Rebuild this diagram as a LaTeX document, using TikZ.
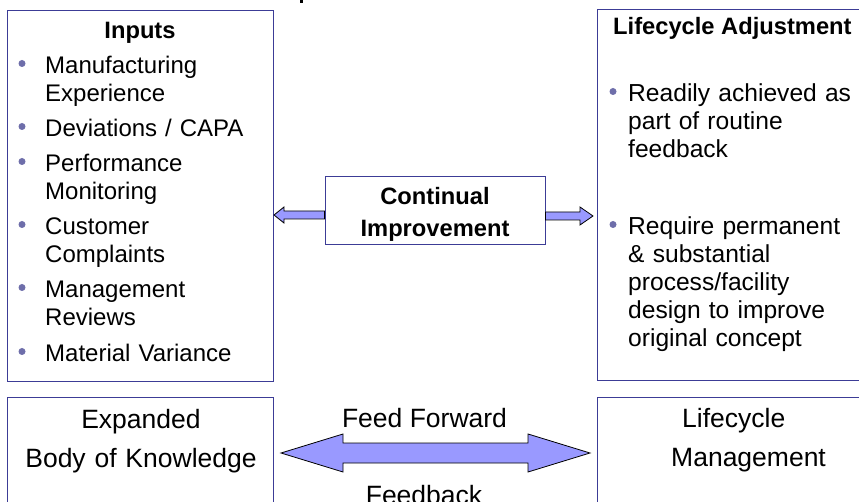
\documentclass[tikz,border=0pt]{standalone}
\usepackage{fontspec}
\setmainfont{Liberation Sans}
\usetikzlibrary{calc}
\definecolor{boxc}{RGB}{60,60,150}
\definecolor{bulc}{RGB}{110,110,170}
\definecolor{arrc}{RGB}{153,153,255}
\newcommand\fitem{\fontsize{24}{28}\selectfont}
\newcommand\fitemR{\fontsize{24.6}{28}\selectfont}
\newcommand\ftitle{\fontsize{23.7}{28}\selectfont\bfseries}
\newcommand\fbig{\fontsize{26.5}{39}\selectfont}
\begin{document}
\begin{tikzpicture}[x=1pt,y=-1pt,
  box/.style={draw=boxc,line width=1pt,fill=white,inner sep=0pt,anchor=north west},
  itemL/.style={anchor=base west,inner sep=0pt,text width=225pt,align=left,font=\fitem},
  itemR/.style={anchor=base west,inner sep=0pt,text width=228pt,align=left,font=\fitemR},
  bul/.style={fill=bulc},
  arrowst/.style={draw=black,line width=0.8pt,fill=arrc,line join=miter}]
\useasboundingbox (0,0) rectangle (859,502);
\clip (0,0) rectangle (859,502);
\fill (300,0) rectangle (302.5,3);
% boxes
\node[box,minimum width=266pt,minimum height=371pt] (inputs) at (7,10) {};
\node[box,minimum width=280pt,minimum height=371pt] (ladj) at (597,9) {};
\node[box,minimum width=266pt,minimum height=130pt] (ebk) at (7,397) {};
\node[box,minimum width=280pt,minimum height=130pt] (lcm) at (597,397) {};
\node[box,minimum width=220pt,minimum height=68pt,anchor=center] (ci) at (435,211) {};
% titles
\node[anchor=base,inner sep=0pt,font=\ftitle] (tin) at (140,39) {Inputs};
\node[anchor=base west,inner sep=0pt,font=\ftitle] (tla) at (613,35) {Lifecycle Adjustment};
\node[anchor=base,inner sep=0pt,font=\ftitle,text width=220pt,align=center] (tci) at (435,205) {Continual\\[4pt]Improvement};
% input items
\foreach \y/\t [count=\i] in {74/{Manufacturing\\Experience},137/{Deviations / CAPA},172/{Performance\\Monitoring},235/{Customer\\Complaints},298/{Management\\Reviews},362/{Material Variance}}{
  \fill[bul] (22,\y-10.5) circle (3.5);
  \node[itemL] (in\i) at (45,\y) {\t};
}
% right items
\foreach \y/\t [count=\i] in {102/{Readily achieved as\\part of routine\\feedback},235/{Require permanent\\\& substantial\\process/facility\\design to improve\\original concept}}{
  \fill[bul] (613,\y-10.5) circle (3.5);
  \node[itemR] (la\i) at (628,\y) {\t};
}
% bottom texts
\node[anchor=base,inner sep=0pt,font=\fbig,text width=260pt,align=center] (tebk) at (141,428) {Expanded\\Body of Knowledge};
\node[anchor=base west,inner sep=0pt,font=\fbig,text width=200pt,align=left] (tlcm) at (671,427) {\hspace*{11pt}Lifecycle\\Management};
\node[anchor=base,inner sep=0pt,font=\fbig] (tff) at (424.5,427) {Feed Forward};
\node[anchor=base,inner sep=0pt,font=\fbig] (tfb) at (424,504) {Feedback};
% small arrows
\coordinate (yl) at (0,215);
\coordinate (yr) at (0,216);
\coordinate (yb) at (0,453);
\path (ci.west |- yl) coordinate (aL0) (inputs.east |- yl) coordinate (aL1);
\draw[arrowst] ($(aL0)+(0,-4)$) -- ($(aL1)+(10,-4)$) -- ($(aL1)+(10,-8)$) -- (aL1)
  -- ($(aL1)+(10,8)$) -- ($(aL1)+(10,4)$) -- ($(aL0)+(0,4)$) -- cycle;
\path (ci.east |- yr) coordinate (aR0) ($(ladj.west |- yr)+(-4,0)$) coordinate (aR1);
\draw[arrowst] ($(aR0)+(0,-4)$) -- ($(aR1)+(-13,-4)$) -- ($(aR1)+(-13,-9)$) -- (aR1)
  -- ($(aR1)+(-13,9)$) -- ($(aR1)+(-13,4)$) -- ($(aR0)+(0,4)$) -- cycle;
% big double arrow
\path ($(ebk.east |- yb)+(7,0)$) coordinate (bL) ($(lcm.west |- yb)+(-7,0)$) coordinate (bR);
\draw[arrowst] (bL) -- ($(bL)+(62,-19)$) -- ($(bL)+(62,-10)$) -- ($(bR)+(-62,-10)$)
  -- ($(bR)+(-62,-19)$) -- (bR) -- ($(bR)+(-62,19)$) -- ($(bR)+(-62,10)$)
  -- ($(bL)+(62,10)$) -- ($(bL)+(62,19)$) -- cycle;
\end{tikzpicture}
\end{document}
